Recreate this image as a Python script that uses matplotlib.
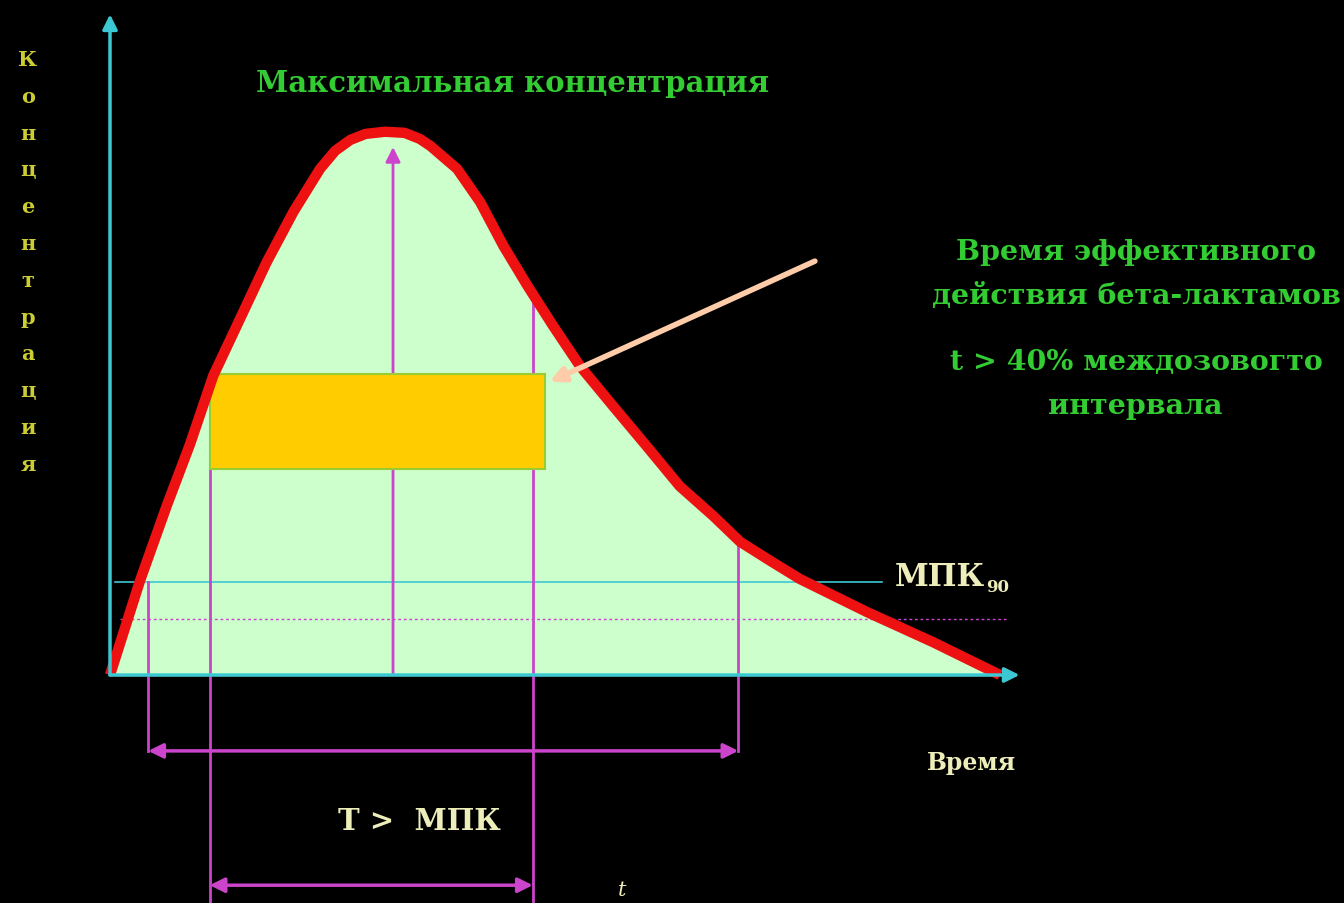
import matplotlib
matplotlib.use("Agg")
import matplotlib.pyplot as plt
from matplotlib.patches import Rectangle
import numpy as np

# Pharmacokinetic curve (time, concentration), arbitrary units
time = [0.0, 0.34, 0.64, 0.90, 1.16, 1.46, 1.76, 2.06, 2.36, 2.53, 2.70, 2.87,
        3.09, 3.31, 3.48, 3.60, 3.90, 4.16, 4.42, 4.69, 4.98, 5.28, 5.65, 6.03,
        6.40, 6.78, 7.08, 7.42, 7.75, 8.51, 9.25, 10.0]
conc = [0.0, 1.74, 3.11, 4.23, 5.48, 6.52, 7.56, 8.48, 9.27, 9.60, 9.80, 9.91,
        9.95, 9.93, 9.82, 9.69, 9.27, 8.66, 7.86, 7.13, 6.39, 5.66, 4.93, 4.19,
        3.46, 2.91, 2.44, 2.09, 1.76, 1.15, 0.60, 0.0]

mic90 = 1.70          # МПК90 level
mic_low = 1.03        # lower dotted level
t_peak = 3.18         # time of the maximum
t_mic_span = [0.43, 7.06]      # time above МПК90
t_eff_span = [1.12, 4.75]      # T > МПК
box_t = [1.12, 4.89]           # effective-action box
box_c = [3.77, 5.51]

cyan = "#3cc8d2"
magenta = "#cc44cc"
green = "#33cc33"
pale = "#eeeebb"
serif = ["DejaVu Serif"]

fig = plt.figure(figsize=(13.44, 9.04), dpi=100)
fig.patch.set_facecolor("black")
ax = fig.add_axes([0, 0, 1, 1])
ax.set_facecolor("black")
ax.set_xlim(-110 / 89, 1234 / 89)
ax.set_ylim(-228 / 54.6, 676 / 54.6)
ax.axis("off")

# fill under the curve
ax.fill_between(time, conc, 0, color="#ccffcc", zorder=1)

# МПК levels
ax.plot([0.06, 8.67], [mic90, mic90], color=cyan, lw=1.2, zorder=2)
ax.plot([0.11, 10.1], [mic_low, mic_low], color=magenta, lw=1.0, ls=(0, (2, 2)), zorder=2)

# effective box
ax.add_patch(Rectangle((box_t[0], box_c[0]), box_t[1] - box_t[0], box_c[1] - box_c[0],
                       fc="#ffcc00", ec="#99cc33", lw=1.5, zorder=4))

# vertical magenta lines
c_at = lambda t: np.interp(t, time, conc)
ax.plot([t_mic_span[0]] * 2, [mic90, -1.39], color=magenta, lw=2, zorder=3)
ax.plot([t_mic_span[1]] * 2, [c_at(t_mic_span[1]), -1.39], color=magenta, lw=2, zorder=3)
ax.plot([t_eff_span[0]] * 2, [c_at(t_eff_span[0]), -4.3], color=magenta, lw=2, zorder=3)
ax.plot([t_eff_span[1]] * 2, [c_at(t_eff_span[1]), -4.3], color=magenta, lw=2, zorder=3)
ax.annotate("", xy=(t_peak, 9.67), xytext=(t_peak, 0), zorder=3,
            arrowprops=dict(arrowstyle="-|>", color=magenta, lw=2,
                            mutation_scale=22, shrinkA=0, shrinkB=0))

# horizontal double arrows
ax.annotate("", xy=(t_mic_span[0], -1.39), xytext=(t_mic_span[1], -1.39),
            arrowprops=dict(arrowstyle="<|-|>", color=magenta, lw=2.5,
                            mutation_scale=22, shrinkA=0, shrinkB=0))
ax.annotate("", xy=(t_eff_span[0], -3.85), xytext=(t_eff_span[1], -3.85),
            arrowprops=dict(arrowstyle="<|-|>", color=magenta, lw=2.5,
                            mutation_scale=22, shrinkA=0, shrinkB=0))

# curve
ax.plot(time, conc, color="#ee1111", lw=7.5, solid_joinstyle="round",
        solid_capstyle="butt", zorder=5)

# axes arrows
ax.annotate("", xy=(10.22, 0), xytext=(0, 0), zorder=6,
            arrowprops=dict(arrowstyle="-|>", color=cyan, lw=2.5,
                            mutation_scale=22, shrinkA=0, shrinkB=0))
ax.annotate("", xy=(0, 12.1), xytext=(0, 0), zorder=6,
            arrowprops=dict(arrowstyle="-|>", color=cyan, lw=2.5,
                            mutation_scale=22, shrinkA=0, shrinkB=0))

# pointer to the box
ax.annotate("", xy=(4.94, 5.37), xytext=(7.92, 7.58), zorder=6,
            arrowprops=dict(arrowstyle="-|>", color="#ffccaa", lw=4,
                            mutation_scale=22, shrinkA=0, shrinkB=0))

# texts (positions given in picture pixels converted to data units)
def px(x, y):
    return (x - 110) / 89, (676 - y) / 54.6

bold = dict(fontweight="bold", family=serif, va="center")
ax.text(*px(513, 83), "Максимальная концентрация", color=green, fontsize=21,
        ha="center", **bold)
ax.text(*px(1136, 252), "Время эффективного", color=green, fontsize=20.5,
        ha="center", **bold)
ax.text(*px(1136, 297), "действия бета-лактамов", color=green, fontsize=20.5,
        ha="center", **bold)
ax.text(*px(1136, 362), "t > 40% междозовогто", color=green, fontsize=20.5,
        ha="center", **bold)
ax.text(*px(1135, 407), "интервала", color=green, fontsize=20.5,
        ha="center", **bold)
ax.text(*px(895, 578), "МПК", color=pale, fontsize=22, ha="left", **bold)
ax.text(*px(986, 588), "90", color=pale, fontsize=12, ha="left", **bold)
ax.text(*px(972, 763), "Время", color=pale, fontsize=17, ha="center", **bold)
ax.text(*px(419, 822), "T >  МПК", color=pale, fontsize=21, ha="center", **bold)
ax.text(*px(622, 891), "t", color=pale, fontsize=15, style="italic",
        family=serif, ha="center", va="center")

label = "Концентрация"
for i, ch in enumerate(label):
    ax.text(*px(28, 60 + i * 36.8), ch, color="#cccc33", fontsize=15,
            ha="center", **bold)

fig.savefig("out.png", dpi=100, facecolor="black")
